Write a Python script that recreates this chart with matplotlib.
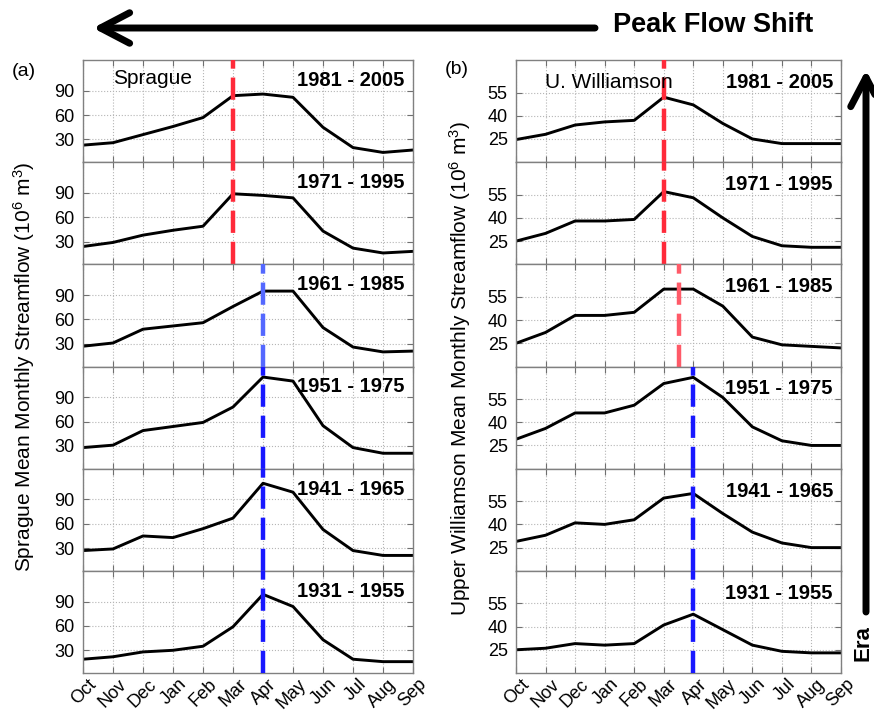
import matplotlib
matplotlib.use('Agg')
import matplotlib.pyplot as plt
from matplotlib.patches import FancyArrowPatch
from matplotlib.transforms import ScaledTranslation

plt.rcParams['font.family'] = ['Liberation Sans', 'DejaVu Sans']
plt.rcParams['mathtext.fontset'] = 'custom'
plt.rcParams['mathtext.rm'] = 'Liberation Sans'
plt.rcParams['mathtext.it'] = 'Liberation Sans:italic'
plt.rcParams['mathtext.bf'] = 'Liberation Sans:bold'

months = ['Oct', 'Nov', 'Dec', 'Jan', 'Feb', 'Mar', 'Apr', 'May', 'Jun', 'Jul', 'Aug', 'Sep']
eras = ['1981 - 2005', '1971 - 1995', '1961 - 1985', '1951 - 1975', '1941 - 1965', '1931 - 1955']

# Sprague mean monthly streamflow (10^6 m^3)
sprague_1981 = [23, 26, 36, 46, 57, 84, 86, 82, 45, 20, 14, 17]
sprague_1971 = [24, 29, 38, 44, 49, 89, 87, 84, 43, 22, 16, 18]
sprague_1961 = [27, 31, 48, 52, 56, 76, 95, 95, 50, 26, 20, 21]
sprague_1951 = [28, 31, 49, 54, 59, 78, 115, 110, 55, 28, 21, 21]
sprague_1941 = [27, 29, 45, 43, 54, 67, 110, 99, 53, 27, 21, 21]
sprague_1931 = [19, 22, 28, 30, 35, 59, 99, 84, 43, 19, 16, 16]

# Upper Williamson mean monthly streamflow (10^6 m^3)
willi_1981 = [24.6, 28, 34, 36, 37, 52, 47, 35, 25, 22, 22, 22]
willi_1971 = [25, 30, 38, 38, 39, 57, 53, 40, 28, 22, 21, 21]
willi_1961 = [25, 32, 43, 43, 45, 60, 60, 49, 29, 24, 23, 22]
willi_1951 = [29, 36, 46, 46, 51, 65, 69, 56, 37, 28, 25, 25]
willi_1941 = [29, 33, 41, 40, 43, 57, 60, 47, 35, 28, 25, 25]
willi_1931 = [25, 26, 29, 28, 29, 41, 48, 38, 28, 24, 23, 23]

# peak month position (index into months) for each era
sprague_peak = [5, 5, 6, 6, 6, 6]
willi_peak = [5, 5, 5.5, 6, 6, 6]

sprague = [sprague_1981, sprague_1971, sprague_1961, sprague_1951, sprague_1941, sprague_1931]
willi = [willi_1981, willi_1971, willi_1961, willi_1951, willi_1941, willi_1931]

red = '#ff2a3a'
red_light = '#ff5a68'
blue = '#1818ff'
blue_light = '#5468ff'
sprague_colors = [red, red, blue_light, blue, blue, blue]
willi_colors = [red, red, red_light, blue, blue, blue]

W, H = 874, 713
fig = plt.figure(figsize=(W / 100, H / 100), dpi=100)

bottom = 1 - 673 / H
panel_h = (673 - 60) / H / 6
x = list(range(len(months)))
label_shift = ScaledTranslation(0.05, 0, fig.dpi_scale_trans)


def draw_column(x0, width, series, peaks, colors, ylim, yticks, era_y):
    axes = []
    for i in range(6):
        ax = fig.add_axes([x0, bottom + (5 - i) * panel_h, width, panel_h])
        ax.plot(x, series[i], color='black', lw=2.1, zorder=2)
        ax.axvline(peaks[i], color=colors[i], lw=3.2, dashes=(5, 2), zorder=3)
        ax.set_xlim(0, 11)
        ax.set_ylim(*ylim)
        ax.set_xticks(x)
        ax.set_yticks(yticks)
        ax.grid(True, ls=':', color='#b5b5b5', lw=0.8)
        ax.tick_params(direction='in', top=True, right=True, length=4, width=0.8,
                       color='#707070', labelsize=13, pad=6)
        ax.tick_params(axis='x', pad=2)
        for sp in ax.spines.values():
            sp.set_color('#808080')
            sp.set_linewidth(1)
        ax.text(0.975, era_y, eras[i], transform=ax.transAxes, ha='right', va='center',
                fontsize=14.5, fontweight='bold')
        if i < 5:
            ax.set_xticklabels([])
        else:
            ax.set_xticklabels(months, rotation=45, ha='right', va='top',
                               rotation_mode='anchor', fontsize=13)
            for lab in ax.get_xticklabels():
                lab.set_transform(lab.get_transform() + label_shift)
        axes.append(ax)
    return axes


left_axes = draw_column(83 / W, 330 / W, sprague, sprague_peak, sprague_colors,
                        (2, 128), [30, 60, 90], 0.80)
right_axes = draw_column(516 / W, 325 / W, willi, willi_peak, willi_colors,
                         (10, 76), [25, 40, 55], 0.78)

left_axes[0].text(0.09, 0.82, 'Sprague', transform=left_axes[0].transAxes,
                  ha='left', va='center', fontsize=15)
right_axes[0].text(0.09, 0.78, 'U. Williamson', transform=right_axes[0].transAxes,
                   ha='left', va='center', fontsize=15)

fig.text(12 / W, 1 - 71 / H, '(a)', ha='left', va='center', fontsize=14)
fig.text(445 / W, 1 - 70 / H, '(b)', ha='left', va='center', fontsize=14)

fig.text(24 / W, 1 - 367 / H, 'Sprague Mean Monthly Streamflow (10$^6$ m$^3$)',
         rotation=90, ha='center', va='center', fontsize=15)
fig.text(460 / W, 1 - 368 / H, 'Upper Williamson Mean Monthly Streamflow (10$^6$ m$^3$)',
         rotation=90, ha='center', va='center', fontsize=15)

# big arrows
arrow_kw = dict(arrowstyle='->,head_length=1.05,head_width=0.55', mutation_scale=20,
                lw=5, color='black', capstyle='round', joinstyle='round',
                shrinkA=0, shrinkB=0, transform=fig.transFigure)
fig.add_artist(FancyArrowPatch((595 / W, 1 - 28 / H), (93 / W, 1 - 28 / H), **arrow_kw))
fig.add_artist(FancyArrowPatch((866 / W, 1 - 612 / H), (866 / W, 1 - 70 / H), **arrow_kw))

fig.text(613 / W, 1 - 25 / H, 'Peak Flow Shift', ha='left', va='center',
         fontsize=19.5, fontweight='bold')
fig.text(863 / W, 1 - 643 / H, 'Era', rotation=90, ha='center', va='center',
         fontsize=16, fontweight='bold')

fig.savefig('out.png', dpi=100)
